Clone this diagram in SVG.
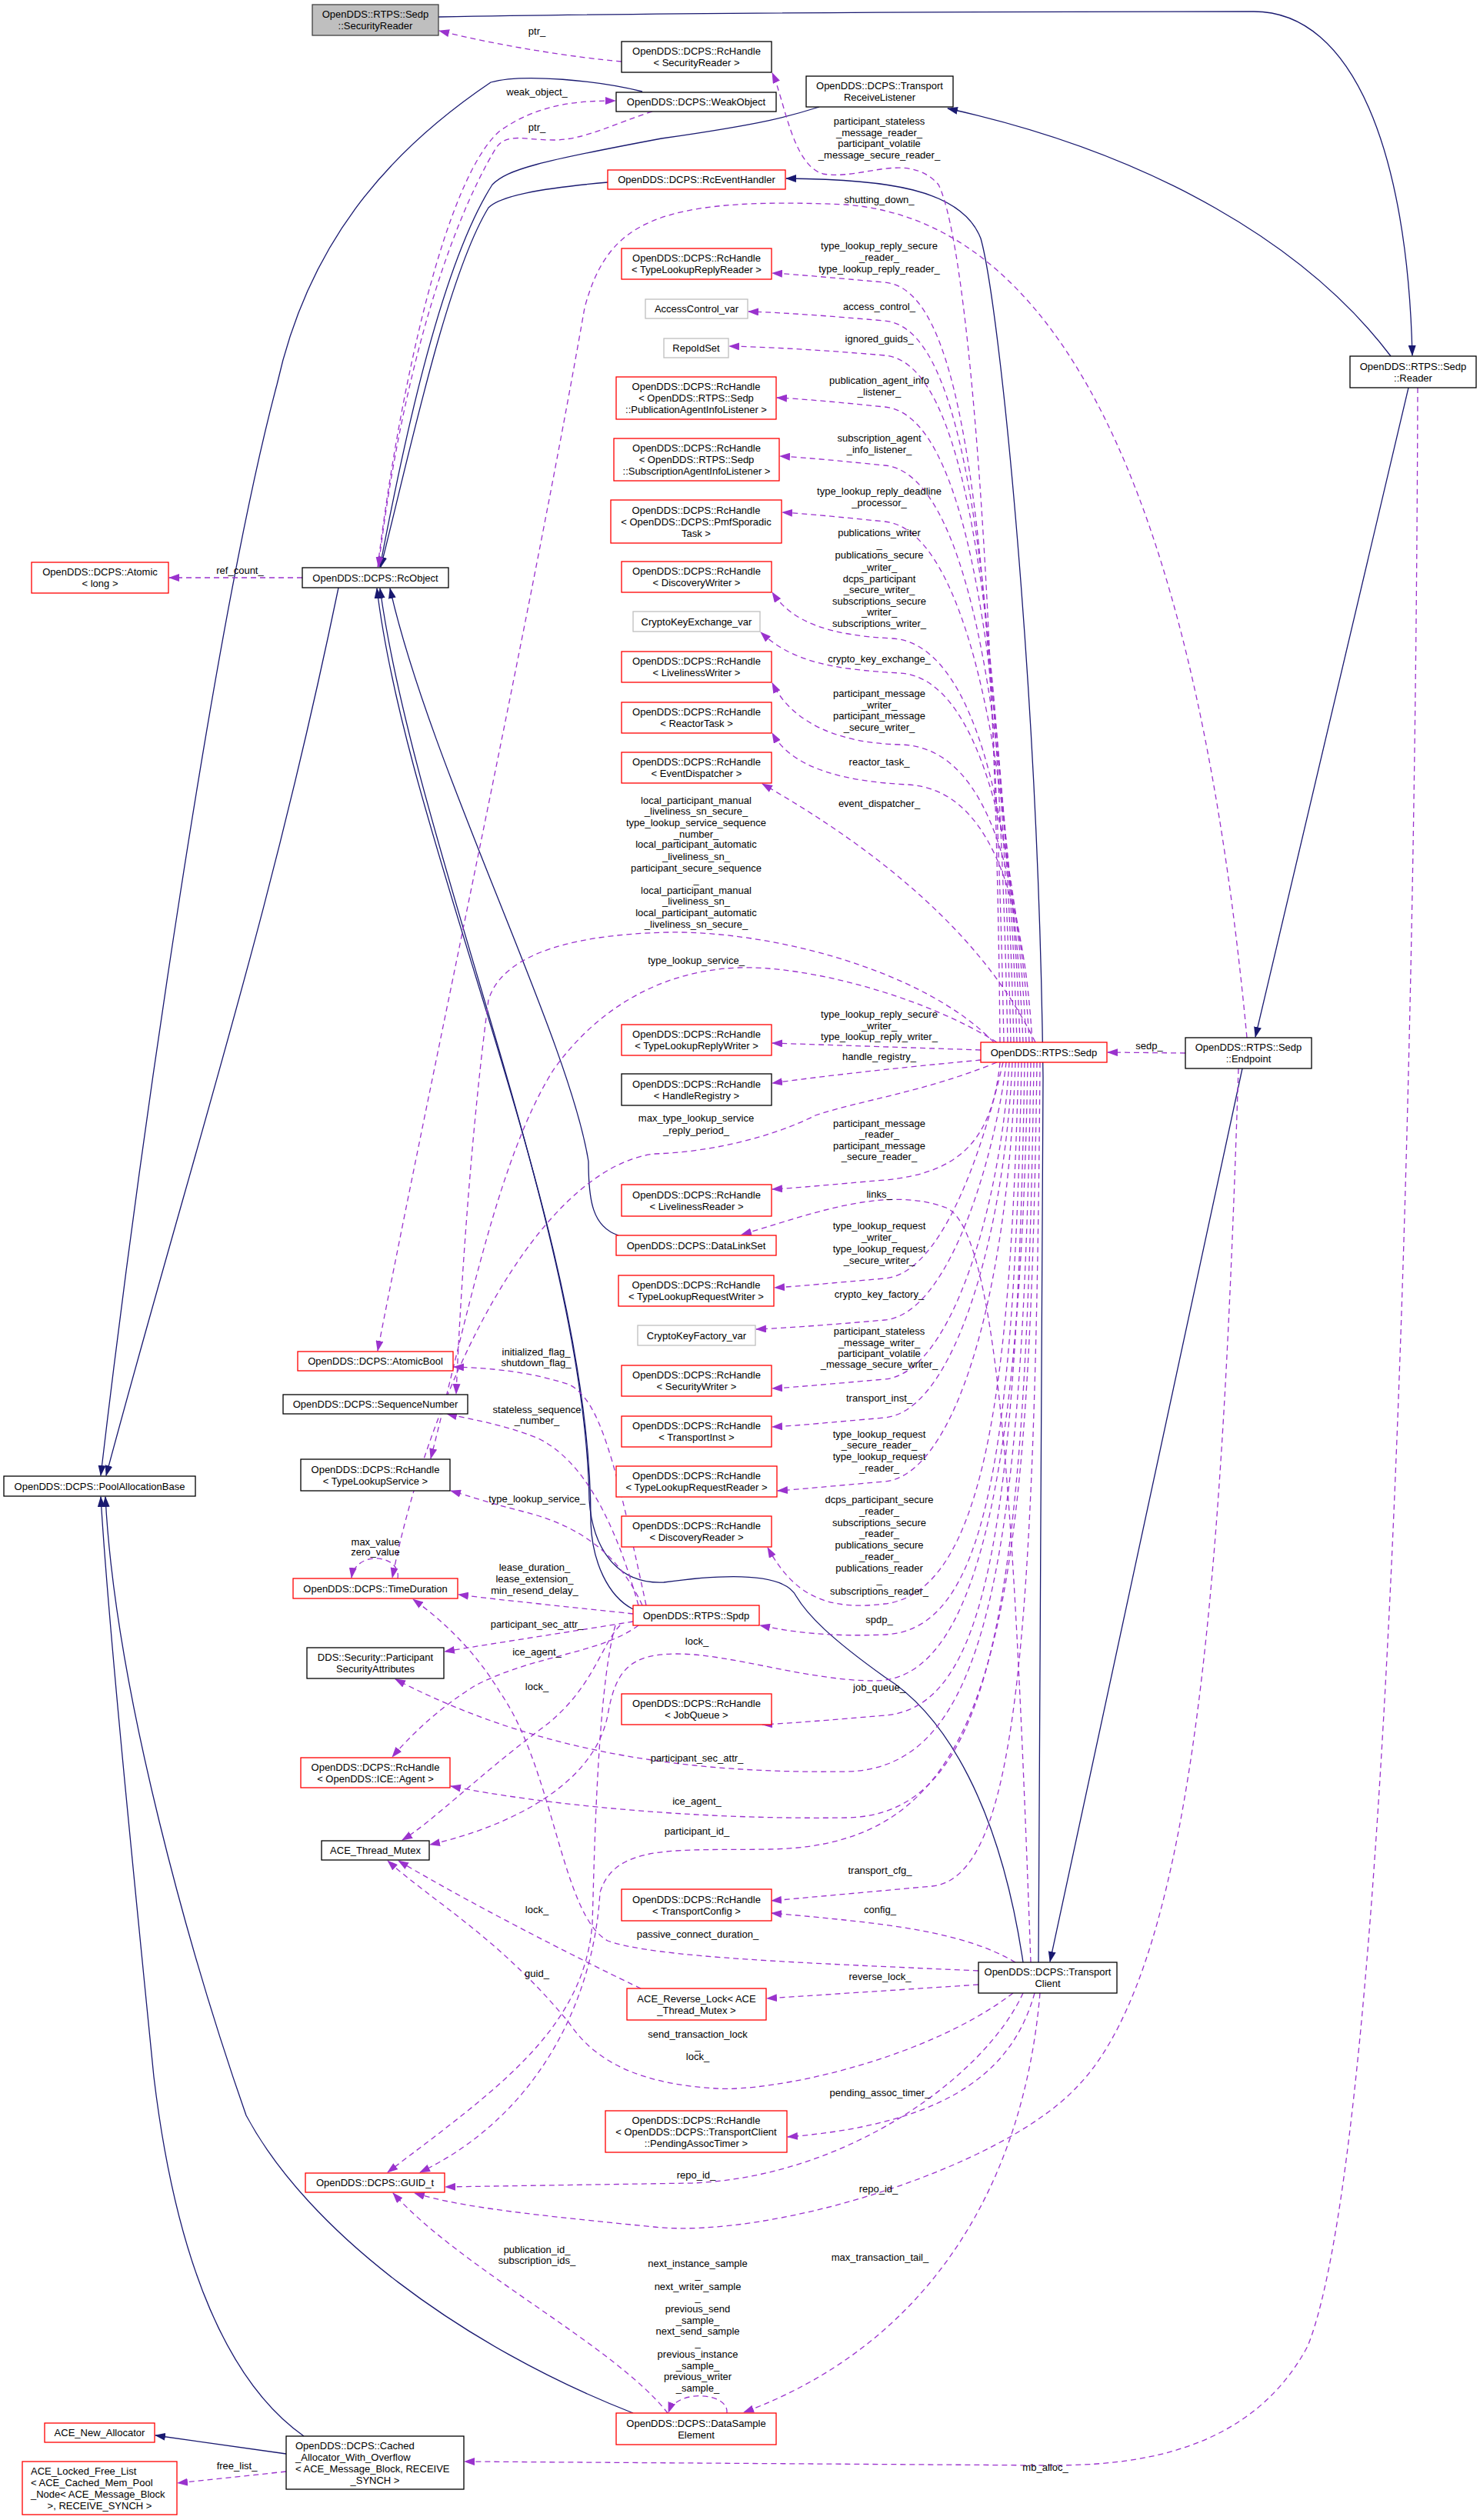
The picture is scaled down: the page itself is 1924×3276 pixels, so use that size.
<svg xmlns="http://www.w3.org/2000/svg" width="1924" height="3276" viewBox="0 0 1924 3276">
<style>
text{font-family:"Liberation Sans",Arial,sans-serif;font-size:13px;fill:#000}
.n text{text-anchor:middle}
.l{text-anchor:middle}
rect{fill:#fff;stroke-width:1.3}
.r rect{stroke:#ff0000}
.k rect{stroke:#000}
.g rect{stroke:#bfbfbf}
.inh{fill:none;stroke:#191970;stroke-width:1.3;marker-end:url(#an)}
.use{fill:none;stroke:#9a32cd;stroke-width:1.3;stroke-dasharray:7,5;marker-end:url(#ap)}
</style>
<defs>
<marker id="an" markerUnits="userSpaceOnUse" markerWidth="14" markerHeight="10" refX="13" refY="5" orient="auto"><path d="M0,0 L14,5 L0,10 z" fill="#191970"/></marker>
<marker id="ap" markerUnits="userSpaceOnUse" markerWidth="14" markerHeight="10" refX="13" refY="5" orient="auto"><path d="M0,0 L14,5 L0,10 z" fill="#9a32cd"/></marker>
</defs>
<rect x="0" y="0" width="1924" height="3276" style="fill:#fff;stroke:none"/>
<g id="edges">
<!-- inheritance -->
<path class="inh" d="M570,22 C900,16 1400,15 1630,15 C1760,15 1830,200 1836,462"/>
<path class="inh" d="M1808,463 C1700,320 1500,200 1232,141"/>
<path class="inh" d="M1831,504 L1632,1348"/>
<path class="inh" d="M1615,1389 L1365,2550"/>
<path class="inh" d="M1350,2551 L1356,1400 C1350,900 1300,400 1275,310 C1250,245 1150,233 1022,232"/>
<path class="inh" d="M1065,139 C1030,150 1000,160 860,180 C700,210 660,220 640,240 C570,350 520,600 494,737"/>
<path class="inh" d="M790,237 C700,245 650,255 635,270 C580,360 530,600 495,737"/>
<path class="inh" d="M835,119 C780,105 680,95 638,107 C500,200 400,320 360,500 C280,800 180,1500 131,1918"/>
<path class="inh" d="M440,764 C350,1200 250,1500 138,1918"/>
<path class="inh" d="M804,1606 C770,1595 765,1560 765,1510 C740,1350 560,1000 507,765"/>
<path class="inh" d="M823,2092 C790,2075 770,2030 768,1980 C770,1600 530,1100 490,765"/>
<path class="inh" d="M1330,2551 C1300,2350 1230,2230 1150,2180 C1080,2130 1050,2100 1035,2075 C1020,2045 950,2045 863,2057 C800,2060 770,2010 766,1950 C760,1600 540,1100 494,765"/>
<path class="inh" d="M372,3190 L202,3166"/>
<path class="inh" d="M395,3167 C300,3100 230,2950 200,2700 C170,2400 140,2100 131,1946"/>
<path class="inh" d="M823,3137 C600,3050 400,2900 320,2750 C250,2550 150,2200 137,1946"/>
<!-- usage -->
<path class="use" d="M808,80 C750,75 650,60 571,40"/>
<path class="use" d="M491,737 C520,500 580,230 650,170 C700,135 750,131 800,131"/>
<path class="use" d="M848,145 C800,160 760,182 720,182 C680,182 660,172 645,192 C580,300 520,500 492,737"/>
<path class="use" d="M393,751 L220,751"/>
<path class="use" d="M1300,1355 C1295,800 1260,320 1220,240 C1180,195 1120,235 1070,226 C1030,215 1020,130 1004,95"/>
<path class="use" d="M1305,1355 C1290,605 1240,375 1150,367 C1080,361 1040,357 1004,355"/>
<path class="use" d="M1310,1355 C1295,655 1240,425 1150,417 C1080,411 1030,407 973,405"/>
<path class="use" d="M1314,1355 C1299,700 1240,470 1150,462 C1080,456 1020,452 948,450"/>
<path class="use" d="M1318,1355 C1303,767 1240,537 1150,529 C1090,523 1050,519 1010,517"/>
<path class="use" d="M1322,1355 C1307,843 1240,613 1150,605 C1090,599 1050,595 1014,593"/>
<path class="use" d="M1326,1355 C1311,916 1240,686 1150,678 C1090,672 1050,668 1017,666"/>
<path class="use" d="M1330,1355 C1315,1000 1250,835 1160,830 C1080,826 1030,810 1004,770"/>
<path class="use" d="M1334,1355 C1320,1050 1260,880 1170,875 C1080,870 1030,860 989,822"/>
<path class="use" d="M1338,1355 C1325,1100 1270,970 1170,968 C1090,966 1030,940 1004,888"/>
<path class="use" d="M1342,1355 C1330,1150 1280,1025 1180,1020 C1100,1016 1030,1000 1004,953"/>
<path class="use" d="M1346,1355 C1280,1220 1150,1110 991,1019"/>
<path class="use" d="M1292,1355 C1200,1260 1000,1210 870,1212 C720,1215 650,1250 635,1300 C615,1450 600,1650 593,1812"/>
<path class="use" d="M1296,1355 C1200,1295 1050,1255 960,1258 C850,1262 770,1320 720,1390 C650,1500 610,1700 560,1896"/>
<path class="use" d="M1275,1365 L1004,1356"/>
<path class="use" d="M1275,1378 C1200,1385 1100,1395 1004,1408"/>
<path class="use" d="M1296,1381 C1200,1420 1120,1430 1060,1450 C1000,1480 920,1498 850,1500 C700,1520 560,1800 510,2051"/>
<path class="use" d="M1300,1381 C1290,1480 1250,1525 1150,1534 C1080,1540 1040,1544 1004,1546"/>
<path class="use" d="M1304,1381 C1294,1424 1240,1654 1150,1662 C1080,1668 1040,1672 1007,1674"/>
<path class="use" d="M1308,1381 C1298,1478 1240,1708 1150,1716 C1080,1722 1030,1726 983,1728"/>
<path class="use" d="M1312,1381 C1302,1555 1240,1785 1150,1793 C1080,1799 1040,1803 1004,1805"/>
<path class="use" d="M1316,1381 C1306,1605 1240,1835 1150,1843 C1080,1849 1040,1853 1004,1855"/>
<path class="use" d="M1320,1381 C1310,1688 1240,1918 1150,1926 C1080,1932 1040,1936 1011,1938"/>
<path class="use" d="M1324,1381 C1314,1800 1280,2070 1150,2085 C1070,2095 1030,2070 998,2012"/>
<path class="use" d="M1328,1381 C1318,1900 1280,2120 1150,2125 C1080,2128 1030,2122 988,2113"/>
<path class="use" d="M1332,1381 C1322,2000 1280,2220 1150,2230 C1080,2236 1030,2240 991,2242"/>
<path class="use" d="M1336,1381 C1326,2000 1250,2185 1137,2185 C1050,2185 950,2150 880,2150 C820,2150 800,2170 790,2230 C770,2330 640,2380 559,2398"/>
<path class="use" d="M1340,1381 C1330,2050 1280,2300 1100,2303 C900,2306 700,2280 514,2183"/>
<path class="use" d="M1344,1381 C1334,2100 1290,2360 1100,2363 C900,2366 700,2345 586,2322"/>
<path class="use" d="M1348,1381 C1338,2150 1290,2400 1000,2404 C880,2406 800,2396 780,2460 C772,2600 700,2750 546,2824"/>
<path class="use" d="M1352,1381 C1346,2150 1320,2440 1212,2452 L1003,2471"/>
<path class="use" d="M1340,2551 C1320,2000 1300,1600 1230,1570 C1150,1540 1050,1580 964,1605"/>
<path class="use" d="M1320,2551 C1250,2510 1150,2500 1003,2487"/>
<path class="use" d="M1272,2562 C1050,2552 850,2545 790,2523 C730,2490 720,2300 650,2200 C620,2150 580,2110 537,2079"/>
<path class="use" d="M1272,2580 L997,2598"/>
<path class="use" d="M1317,2591 C1200,2680 1000,2720 931,2715 C850,2710 780,2690 740,2630 C650,2520 560,2470 504,2419"/>
<path class="use" d="M1345,2591 C1320,2680 1250,2760 1024,2778"/>
<path class="use" d="M1330,2591 C1280,2700 1100,2830 900,2838 L579,2843"/>
<path class="use" d="M1352,2591 C1330,2850 1200,3050 967,3136"/>
<path class="use" d="M833,2585 C780,2560 620,2480 518,2419"/>
<path class="use" d="M800,2113 C775,2200 772,2450 770,2500 C760,2640 640,2720 504,2824"/>
<path class="use" d="M868,3137 C800,3050 600,2950 511,2851"/>
<path class="use" d="M945,3137 C948,3110 880,3105 869,3136"/>
<path class="use" d="M1621,1349 C1560,700 1400,290 1100,266 C850,255 790,290 760,400 C690,800 560,1400 491,1756"/>
<path class="use" d="M1541,1369 L1440,1368"/>
<path class="use" d="M1610,1389 C1590,2000 1560,2550 1400,2713 C1300,2820 1000,2911 850,2895 C700,2880 600,2870 539,2851"/>
<path class="use" d="M1843,504 C1840,1500 1800,2800 1700,3050 C1620,3200 1450,3205 1359,3205 L604,3200"/>
<path class="use" d="M372,3213 L231,3228"/>
<path class="use" d="M823,2098 C750,2090 650,2080 596,2073"/>
<path class="use" d="M823,2108 C750,2120 650,2135 578,2147"/>
<path class="use" d="M830,2113 C780,2150 700,2150 620,2190 C570,2220 530,2260 510,2284"/>
<path class="use" d="M806,2113 C780,2140 770,2200 700,2250 C620,2310 560,2370 523,2392"/>
<path class="use" d="M830,2087 C800,1980 760,1900 700,1870 C650,1850 610,1845 581,1838"/>
<path class="use" d="M835,2087 C800,2010 740,1980 680,1965 C640,1955 610,1945 586,1938"/>
<path class="use" d="M840,2087 C800,1900 780,1820 740,1800 C680,1780 620,1778 590,1777"/>
<path class="use" d="M517,2052 C522,2020 462,2015 457,2051"/>
</g>
<g id="labels">
<text class="l" x="698" y="45">ptr_</text>
<text class="l" x="698" y="124">weak_object_</text>
<text class="l" x="698" y="170">ptr_</text>
<text class="l" x="312" y="746">ref_count_</text>
<text class="l" x="1143"><tspan x="1143" y="162">participant_stateless</tspan><tspan x="1143" y="177">_message_reader_</tspan><tspan x="1143" y="191">participant_volatile</tspan><tspan x="1143" y="206">_message_secure_reader_</tspan></text>
<text class="l" x="1143" y="264">shutting_down_</text>
<text class="l" x="1143"><tspan x="1143" y="324">type_lookup_reply_secure</tspan><tspan x="1143" y="339">_reader_</tspan><tspan x="1143" y="354">type_lookup_reply_reader_</tspan></text>
<text class="l" x="1143" y="403">access_control_</text>
<text class="l" x="1143" y="445">ignored_guids_</text>
<text class="l" x="1143"><tspan x="1143" y="499">publication_agent_info</tspan><tspan x="1143" y="514">_listener_</tspan></text>
<text class="l" x="1143"><tspan x="1143" y="574">subscription_agent</tspan><tspan x="1143" y="589">_info_listener_</tspan></text>
<text class="l" x="1143"><tspan x="1143" y="643">type_lookup_reply_deadline</tspan><tspan x="1143" y="658">_processor_</tspan></text>
<text class="l" x="1143"><tspan x="1143" y="697">publications_writer</tspan><tspan x="1143" y="712">_</tspan><tspan x="1143" y="726">publications_secure</tspan><tspan x="1143" y="742">_writer_</tspan><tspan x="1143" y="757">dcps_participant</tspan><tspan x="1143" y="771">_secure_writer_</tspan><tspan x="1143" y="786">subscriptions_secure</tspan><tspan x="1143" y="800">_writer_</tspan><tspan x="1143" y="815">subscriptions_writer_</tspan></text>
<text class="l" x="1143" y="861">crypto_key_exchange_</text>
<text class="l" x="1143"><tspan x="1143" y="906">participant_message</tspan><tspan x="1143" y="921">_writer_</tspan><tspan x="1143" y="935">participant_message</tspan><tspan x="1143" y="950">_secure_writer_</tspan></text>
<text class="l" x="1143" y="995">reactor_task_</text>
<text class="l" x="1143" y="1049">event_dispatcher_</text>
<text class="l" x="905"><tspan x="905" y="1045">local_participant_manual</tspan><tspan x="905" y="1059">_liveliness_sn_secure_</tspan><tspan x="905" y="1074">type_lookup_service_sequence</tspan><tspan x="905" y="1089">_number_</tspan><tspan x="905" y="1102">local_participant_automatic</tspan><tspan x="905" y="1118">_liveliness_sn_</tspan><tspan x="905" y="1133">participant_secure_sequence</tspan><tspan x="905" y="1148">_</tspan><tspan x="905" y="1162">local_participant_manual</tspan><tspan x="905" y="1176">_liveliness_sn_</tspan><tspan x="905" y="1191">local_participant_automatic</tspan><tspan x="905" y="1206">_liveliness_sn_secure_</tspan></text>
<text class="l" x="905" y="1253">type_lookup_service_</text>
<text class="l" x="1143"><tspan x="1143" y="1323">type_lookup_reply_secure</tspan><tspan x="1143" y="1338">_writer_</tspan><tspan x="1143" y="1352">type_lookup_reply_writer_</tspan></text>
<text class="l" x="1143" y="1378">handle_registry_</text>
<text class="l" x="1494" y="1364">sedp_</text>
<text class="l" x="905"><tspan x="905" y="1458">max_type_lookup_service</tspan><tspan x="905" y="1474">_reply_period_</tspan></text>
<text class="l" x="1143"><tspan x="1143" y="1465">participant_message</tspan><tspan x="1143" y="1479">_reader_</tspan><tspan x="1143" y="1494">participant_message</tspan><tspan x="1143" y="1508">_secure_reader_</tspan></text>
<text class="l" x="1143" y="1557">links_</text>
<text class="l" x="1143"><tspan x="1143" y="1598">type_lookup_request</tspan><tspan x="1143" y="1613">_writer_</tspan><tspan x="1143" y="1628">type_lookup_request</tspan><tspan x="1143" y="1643">_secure_writer_</tspan></text>
<text class="l" x="1143" y="1687">crypto_key_factory_</text>
<text class="l" x="1143"><tspan x="1143" y="1735">participant_stateless</tspan><tspan x="1143" y="1750">_message_writer_</tspan><tspan x="1143" y="1764">participant_volatile</tspan><tspan x="1143" y="1778">_message_secure_writer_</tspan></text>
<text class="l" x="1143" y="1822">transport_inst_</text>
<text class="l" x="1143"><tspan x="1143" y="1869">type_lookup_request</tspan><tspan x="1143" y="1883">_secure_reader_</tspan><tspan x="1143" y="1898">type_lookup_request</tspan><tspan x="1143" y="1913">_reader_</tspan></text>
<text class="l" x="1143"><tspan x="1143" y="1954">dcps_participant_secure</tspan><tspan x="1143" y="1969">_reader_</tspan><tspan x="1143" y="1984">subscriptions_secure</tspan><tspan x="1143" y="1998">_reader_</tspan><tspan x="1143" y="2013">publications_secure</tspan><tspan x="1143" y="2028">_reader_</tspan><tspan x="1143" y="2043">publications_reader</tspan><tspan x="1143" y="2058">_</tspan><tspan x="1143" y="2073">subscriptions_reader_</tspan></text>
<text class="l" x="1143" y="2110">spdp_</text>
<text class="l" x="906" y="2138">lock_</text>
<text class="l" x="1143" y="2198">job_queue_</text>
<text class="l" x="906" y="2290">participant_sec_attr_</text>
<text class="l" x="906" y="2346">ice_agent_</text>
<text class="l" x="906" y="2385">participant_id_</text>
<text class="l" x="1144" y="2436">transport_cfg_</text>
<text class="l" x="1144" y="2487">config_</text>
<text class="l" x="907" y="2519">passive_connect_duration_</text>
<text class="l" x="1144" y="2574">reverse_lock_</text>
<text class="l" x="907"><tspan x="907" y="2649">send_transaction_lock</tspan><tspan x="907" y="2664">_</tspan><tspan x="907" y="2678">lock_</tspan></text>
<text class="l" x="1144" y="2725">pending_assoc_timer_</text>
<text class="l" x="905" y="2832">repo_id_</text>
<text class="l" x="1142" y="2850">repo_id_</text>
<text class="l" x="1144" y="2939">max_transaction_tail_</text>
<text class="l" x="698" y="2487">lock_</text>
<text class="l" x="698" y="2570">guid_</text>
<text class="l" x="698"><tspan x="698" y="2929">publication_id_</tspan><tspan x="698" y="2943">subscription_ids_</tspan></text>
<text class="l" x="907"><tspan x="907" y="2947">next_instance_sample</tspan><tspan x="907" y="2962">_</tspan><tspan x="907" y="2977">next_writer_sample</tspan><tspan x="907" y="2991">_</tspan><tspan x="907" y="3006">previous_send</tspan><tspan x="907" y="3021">_sample_</tspan><tspan x="907" y="3035">next_send_sample</tspan><tspan x="907" y="3050">_</tspan><tspan x="907" y="3065">previous_instance</tspan><tspan x="907" y="3080">_sample_</tspan><tspan x="907" y="3094">previous_writer</tspan><tspan x="907" y="3109">_sample_</tspan></text>
<text class="l" x="1359" y="3212">mb_alloc_</text>
<text class="l" x="308" y="3210">free_list_</text>
<text class="l" x="695"><tspan x="695" y="2042">lease_duration_</tspan><tspan x="695" y="2057">lease_extension_</tspan><tspan x="695" y="2072">min_resend_delay_</tspan></text>
<text class="l" x="698" y="2116">participant_sec_attr_</text>
<text class="l" x="698" y="2152">ice_agent_</text>
<text class="l" x="698" y="2197">lock_</text>
<text class="l" x="698"><tspan x="698" y="1837">stateless_sequence</tspan><tspan x="698" y="1851">_number_</tspan></text>
<text class="l" x="698" y="1953">type_lookup_service_</text>
<text class="l" x="697"><tspan x="697" y="1762">initialized_flag_</tspan><tspan x="697" y="1776">shutdown_flag_</tspan></text>
<text class="l" x="488"><tspan x="488" y="2009">max_value</tspan><tspan x="488" y="2022">zero_value</tspan></text>
</g>
<g id="n_sr" class="n k"><rect x="406" y="6" width="164" height="40" style="fill:#bfbfbf;stroke:#404040"/><text x="488" y="23">OpenDDS::RTPS::Sedp</text><text x="488" y="38">::SecurityReader</text></g>
<g id="n_rhsr" class="n k"><rect x="808" y="54" width="195" height="40"/><text x="905.5" y="71">OpenDDS::DCPS::RcHandle</text><text x="905.5" y="86">&lt; SecurityReader &gt;</text></g>
<g id="n_wo" class="n k"><rect x="801" y="120" width="208" height="25"/><text x="905" y="137">OpenDDS::DCPS::WeakObject</text></g>
<g id="n_trl" class="n k"><rect x="1048" y="99" width="191" height="40"/><text x="1143.5" y="116">OpenDDS::DCPS::Transport</text><text x="1143.5" y="131">ReceiveListener</text></g>
<g id="n_reh" class="n r"><rect x="790" y="221" width="231" height="25"/><text x="905.5" y="238">OpenDDS::DCPS::RcEventHandler</text></g>
<g id="n_tlrr" class="n r"><rect x="808" y="323" width="195" height="40"/><text x="905.5" y="340">OpenDDS::DCPS::RcHandle</text><text x="905.5" y="355">&lt; TypeLookupReplyReader &gt;</text></g>
<g id="n_acv" class="n g"><rect x="839" y="389" width="133" height="25"/><text x="905.5" y="406">AccessControl_var</text></g>
<g id="n_ris" class="n g"><rect x="863" y="440" width="84" height="25"/><text x="905" y="457">RepoIdSet</text></g>
<g id="n_pail" class="n r"><rect x="801" y="490" width="208" height="55"/><text x="905" y="507">OpenDDS::DCPS::RcHandle</text><text x="905" y="522">&lt; OpenDDS::RTPS::Sedp</text><text x="905" y="537">::PublicationAgentInfoListener &gt;</text></g>
<g id="n_sail" class="n r"><rect x="798" y="570" width="215" height="55"/><text x="905.5" y="587">OpenDDS::DCPS::RcHandle</text><text x="905.5" y="602">&lt; OpenDDS::RTPS::Sedp</text><text x="905.5" y="617">::SubscriptionAgentInfoListener &gt;</text></g>
<g id="n_pmf" class="n r"><rect x="794" y="650" width="222" height="56"/><text x="905" y="667.5">OpenDDS::DCPS::RcHandle</text><text x="905" y="682.5">&lt; OpenDDS::DCPS::PmfSporadic</text><text x="905" y="697.5">Task &gt;</text></g>
<g id="n_dw" class="n r"><rect x="808" y="730" width="195" height="40"/><text x="905.5" y="747">OpenDDS::DCPS::RcHandle</text><text x="905.5" y="762">&lt; DiscoveryWriter &gt;</text></g>
<g id="n_atl" class="n r"><rect x="41" y="731" width="178" height="40"/><text x="130" y="748">OpenDDS::DCPS::Atomic</text><text x="130" y="763">&lt; long &gt;</text></g>
<g id="n_rco" class="n k"><rect x="393" y="738" width="190" height="26"/><text x="488" y="755.5">OpenDDS::DCPS::RcObject</text></g>
<g id="n_reader" class="n k"><rect x="1755" y="463" width="164" height="41"/><text x="1837" y="480.5">OpenDDS::RTPS::Sedp</text><text x="1837" y="495.5">::Reader</text></g>
<g id="n_ckev" class="n g"><rect x="823" y="795" width="165" height="26"/><text x="905.5" y="812.5">CryptoKeyExchange_var</text></g>
<g id="n_lw" class="n r"><rect x="808" y="847" width="195" height="40"/><text x="905.5" y="864">OpenDDS::DCPS::RcHandle</text><text x="905.5" y="879">&lt; LivelinessWriter &gt;</text></g>
<g id="n_rt" class="n r"><rect x="808" y="913" width="195" height="40"/><text x="905.5" y="930">OpenDDS::DCPS::RcHandle</text><text x="905.5" y="945">&lt; ReactorTask &gt;</text></g>
<g id="n_ed" class="n r"><rect x="808" y="978" width="195" height="40"/><text x="905.5" y="995">OpenDDS::DCPS::RcHandle</text><text x="905.5" y="1010">&lt; EventDispatcher &gt;</text></g>
<g id="n_tlrw" class="n r"><rect x="808" y="1332" width="195" height="40"/><text x="905.5" y="1349">OpenDDS::DCPS::RcHandle</text><text x="905.5" y="1364">&lt; TypeLookupReplyWriter &gt;</text></g>
<g id="n_sedp" class="n r"><rect x="1275" y="1355" width="164" height="26"/><text x="1357" y="1372.5">OpenDDS::RTPS::Sedp</text></g>
<g id="n_ep" class="n k"><rect x="1541" y="1349" width="164" height="40"/><text x="1623" y="1366">OpenDDS::RTPS::Sedp</text><text x="1623" y="1381">::Endpoint</text></g>
<g id="n_hr" class="n k"><rect x="808" y="1396" width="195" height="41"/><text x="905.5" y="1413.5">OpenDDS::DCPS::RcHandle</text><text x="905.5" y="1428.5">&lt; HandleRegistry &gt;</text></g>
<g id="n_lr" class="n r"><rect x="808" y="1540" width="195" height="41"/><text x="905.5" y="1557.5">OpenDDS::DCPS::RcHandle</text><text x="905.5" y="1572.5">&lt; LivelinessReader &gt;</text></g>
<g id="n_dls" class="n r"><rect x="801" y="1606" width="208" height="26"/><text x="905" y="1623.5">OpenDDS::DCPS::DataLinkSet</text></g>
<g id="n_tlrqw" class="n r"><rect x="804" y="1658" width="202" height="40"/><text x="905" y="1675">OpenDDS::DCPS::RcHandle</text><text x="905" y="1690">&lt; TypeLookupRequestWriter &gt;</text></g>
<g id="n_ckfv" class="n g"><rect x="829" y="1723" width="153" height="26"/><text x="905.5" y="1740.5">CryptoKeyFactory_var</text></g>
<g id="n_sw" class="n r"><rect x="808" y="1775" width="195" height="40"/><text x="905.5" y="1792">OpenDDS::DCPS::RcHandle</text><text x="905.5" y="1807">&lt; SecurityWriter &gt;</text></g>
<g id="n_ab" class="n r"><rect x="387" y="1757" width="202" height="25"/><text x="488" y="1774">OpenDDS::DCPS::AtomicBool</text></g>
<g id="n_sn" class="n k"><rect x="368" y="1813" width="240" height="25"/><text x="488" y="1830">OpenDDS::DCPS::SequenceNumber</text></g>
<g id="n_ti" class="n r"><rect x="808" y="1841" width="195" height="40"/><text x="905.5" y="1858">OpenDDS::DCPS::RcHandle</text><text x="905.5" y="1873">&lt; TransportInst &gt;</text></g>
<g id="n_rhtls" class="n k"><rect x="391" y="1897" width="194" height="41"/><text x="488" y="1914.5">OpenDDS::DCPS::RcHandle</text><text x="488" y="1929.5">&lt; TypeLookupService &gt;</text></g>
<g id="n_pab" class="n k"><rect x="5" y="1919" width="249" height="26"/><text x="129.5" y="1936.5">OpenDDS::DCPS::PoolAllocationBase</text></g>
<g id="n_tlrqr" class="n r"><rect x="801" y="1906" width="209" height="40"/><text x="905.5" y="1923">OpenDDS::DCPS::RcHandle</text><text x="905.5" y="1938">&lt; TypeLookupRequestReader &gt;</text></g>
<g id="n_dr" class="n r"><rect x="808" y="1971" width="195" height="40"/><text x="905.5" y="1988">OpenDDS::DCPS::RcHandle</text><text x="905.5" y="2003">&lt; DiscoveryReader &gt;</text></g>
<g id="n_td" class="n r"><rect x="381" y="2052" width="214" height="26"/><text x="488" y="2069.5">OpenDDS::DCPS::TimeDuration</text></g>
<g id="n_spdp" class="n r"><rect x="823" y="2087" width="164" height="26"/><text x="905" y="2104.5">OpenDDS::RTPS::Spdp</text></g>
<g id="n_psa" class="n k"><rect x="399" y="2142" width="178" height="40"/><text x="488" y="2159">DDS::Security::Participant</text><text x="488" y="2174">SecurityAttributes</text></g>
<g id="n_jq" class="n r"><rect x="808" y="2202" width="195" height="40"/><text x="905.5" y="2219">OpenDDS::DCPS::RcHandle</text><text x="905.5" y="2234">&lt; JobQueue &gt;</text></g>
<g id="n_ice" class="n r"><rect x="391" y="2285" width="194" height="39"/><text x="488" y="2301.5">OpenDDS::DCPS::RcHandle</text><text x="488" y="2316.5">&lt; OpenDDS::ICE::Agent &gt;</text></g>
<g id="n_atm" class="n k"><rect x="418" y="2393" width="140" height="25"/><text x="488" y="2410">ACE_Thread_Mutex</text></g>
<g id="n_tc" class="n r"><rect x="808" y="2456" width="195" height="41"/><text x="905.5" y="2473.5">OpenDDS::DCPS::RcHandle</text><text x="905.5" y="2488.5">&lt; TransportConfig &gt;</text></g>
<g id="n_tclient" class="n k"><rect x="1272" y="2551" width="180" height="40"/><text x="1362" y="2568">OpenDDS::DCPS::Transport</text><text x="1362" y="2583">Client</text></g>
<g id="n_arl" class="n r"><rect x="815" y="2585" width="181" height="41"/><text x="905.5" y="2602.5">ACE_Reverse_Lock&lt; ACE</text><text x="905.5" y="2617.5">_Thread_Mutex &gt;</text></g>
<g id="n_pat" class="n r"><rect x="787" y="2744" width="236" height="54"/><text x="905" y="2760.5">OpenDDS::DCPS::RcHandle</text><text x="905" y="2775.5">&lt; OpenDDS::DCPS::TransportClient</text><text x="905" y="2790.5">::PendingAssocTimer &gt;</text></g>
<g id="n_guid" class="n r"><rect x="397" y="2825" width="181" height="25"/><text x="487.5" y="2842">OpenDDS::DCPS::GUID_t</text></g>
<g id="n_dse" class="n r"><rect x="801" y="3137" width="208" height="41"/><text x="905" y="3154.5">OpenDDS::DCPS::DataSample</text><text x="905" y="3169.5">Element</text></g>
<g id="n_cao" class="k"><rect x="372" y="3167" width="231" height="69"/><text x="384" y="3184">OpenDDS::DCPS::Cached</text><text x="384" y="3199">_Allocator_With_Overflow</text><text x="384" y="3214">&lt; ACE_Message_Block, RECEIVE</text><text x="487.5" y="3229" text-anchor="middle">_SYNCH &gt;</text></g>
<g id="n_na" class="n r"><rect x="58" y="3150" width="143" height="25"/><text x="129.5" y="3167">ACE_New_Allocator</text></g>
<g id="n_lfl" class="r"><rect x="29" y="3200" width="201" height="69"/><text x="40" y="3217">ACE_Locked_Free_List</text><text x="40" y="3232">&lt; ACE_Cached_Mem_Pool</text><text x="40" y="3247">_Node&lt; ACE_Message_Block</text><text x="129.5" y="3262" text-anchor="middle">&gt;, RECEIVE_SYNCH &gt;</text></g>
</svg>
